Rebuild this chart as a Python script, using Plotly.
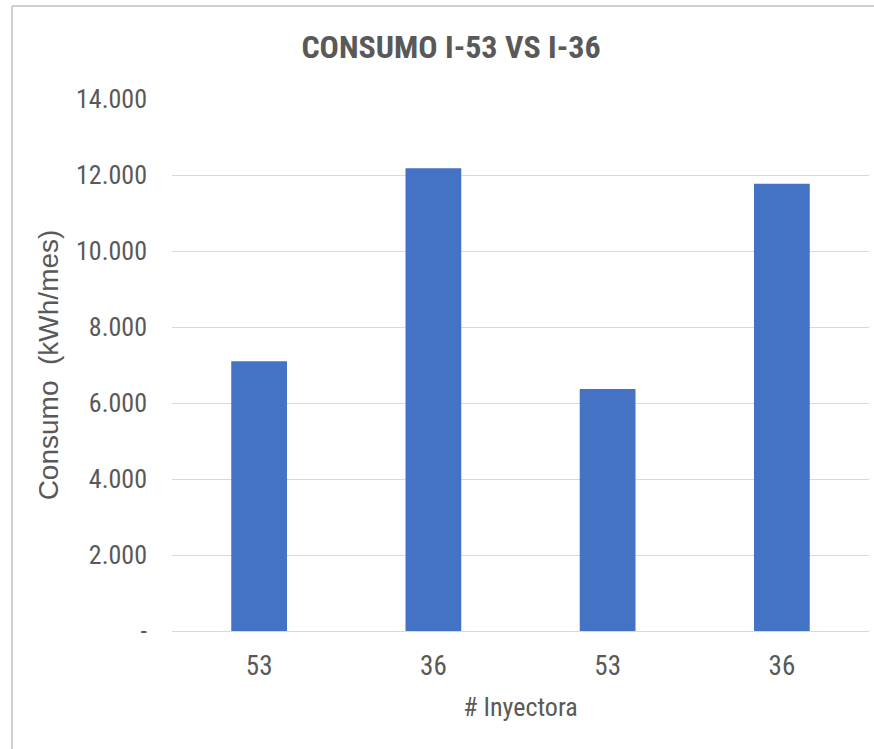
import plotly.graph_objects as go

# Monthly consumption per injection machine
inyectoras = ["53", "36", "53", "36"]
consumo = [7100, 12180, 6370, 11770]

y_ticks = [0, 2000, 4000, 6000, 8000, 10000, 12000, 14000]
y_ticktext = ["-" if v == 0 else f"{v:,}".replace(",", ".") for v in y_ticks]

GRAY = "#595959"
FONT_C = "Roboto"            # rendered condensed below
FONT_Y = "Liberation Sans"   # rotated axis title, regular width

positions = list(range(len(inyectoras)))

fig = go.Figure(
    go.Bar(
        x=positions,
        y=consumo,
        marker=dict(color="#4472C4", line=dict(width=0)),
        hoverinfo="y",
    )
)

fig.update_layout(
    width=874,
    height=749,
    margin=dict(l=172, r=5, t=99, b=118),
    paper_bgcolor="white",
    plot_bgcolor="white",
    bargap=0.68,
    showlegend=False,
    title=dict(
        text="<b>CONSUMO I-53 VS I-36</b>",
        x=0.516,
        xanchor="center",
        y=0.938,
        yanchor="middle",
        font=dict(family=FONT_C, size=32, color=GRAY),
    ),
    font=dict(family=FONT_C, color=GRAY),
)

fig.update_xaxes(
    tickmode="array",
    tickvals=positions,
    ticktext=inyectoras,
    range=[-0.5, len(inyectoras) - 0.5],
    showgrid=False,
    showline=False,
    zeroline=False,
    ticks="",
    ticklabelstandoff=16,
    tickfont=dict(family=FONT_C, size=27, color=GRAY),
    title=dict(text="# Inyectora", standoff=16,
               font=dict(family=FONT_C, size=26, color=GRAY)),
)

fig.update_yaxes(
    range=[0, 14000],
    tickmode="array",
    tickvals=y_ticks,
    ticktext=y_ticktext,
    showgrid=True,
    gridcolor="#d9d9d9",
    gridwidth=1,
    zeroline=True,
    zerolinecolor="#d9d9d9",
    zerolinewidth=1,
    showline=False,
    ticks="",
    ticklabelstandoff=24,
    tickfont=dict(family=FONT_C, size=26, color=GRAY),
    title=dict(text="Consumo  (kWh/mes)", standoff=0,
               font=dict(family=FONT_Y, size=28, color=GRAY)),
)

# Light frame of the chart area (top and left edges)
fig.add_shape(type="line", xref="paper", yref="paper",
              x0=-160 / 697, x1=1.01, y0=(749 - 118 - 6) / 532, y1=(749 - 118 - 6) / 532,
              line=dict(color="#d0d0d0", width=2))
fig.add_shape(type="line", xref="paper", yref="paper",
              x0=-160 / 697, x1=-160 / 697, y0=-0.3, y1=(749 - 118 - 6) / 532,
              line=dict(color="#d0d0d0", width=2))

# Condensed letterforms for all text except the rotated y-axis title
condense = """
var gd = document.getElementById('{plot_id}');
gd.querySelectorAll('text').forEach(function (t) {
  if (!(t.closest('.g-ytitle'))) { t.style.fontStretch = 'condensed'; }
});
"""

fig.write_html("out.html", post_script=condense)
